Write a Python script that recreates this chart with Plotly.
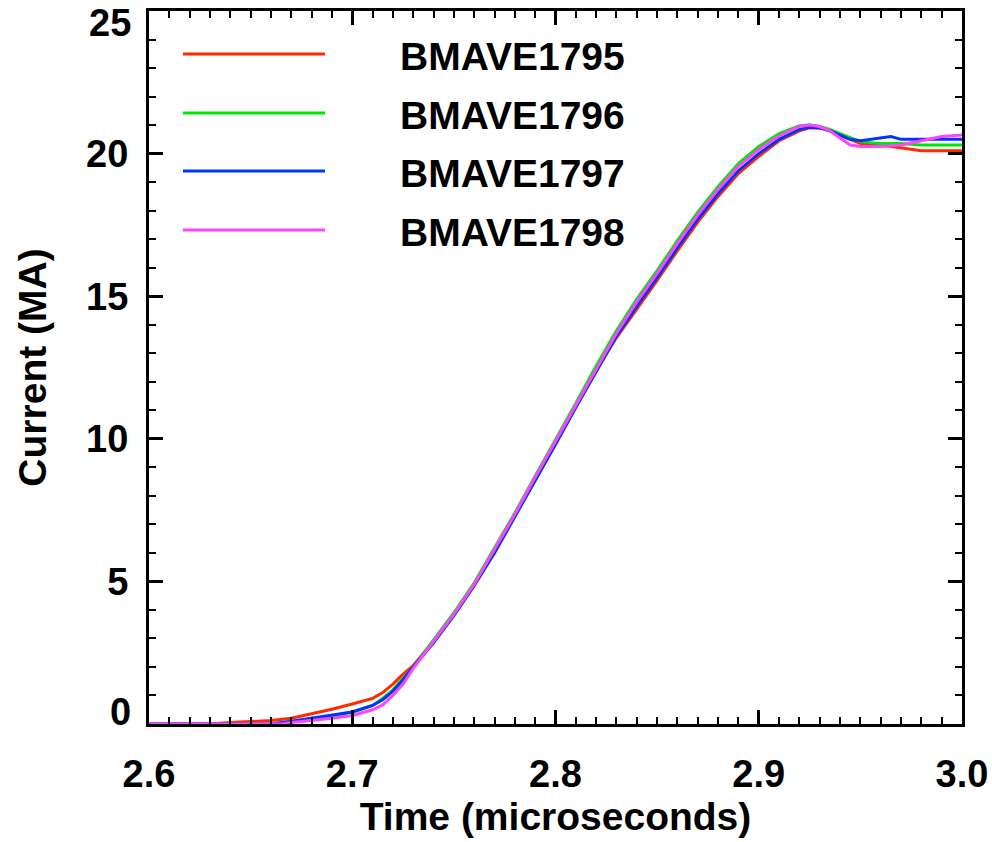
import plotly.graph_objects as go

names = ["BMAVE1795", "BMAVE1796", "BMAVE1797", "BMAVE1798"]
colors = ["#ff2a00", "#00e600", "#0033ff", "#ff44ff"]

t_1795 = [2.60, 2.63, 2.64, 2.66, 2.67, 2.68, 2.69, 2.70, 2.71, 2.715, 2.72, 2.725, 2.73,
          2.74, 2.75, 2.76, 2.77, 2.78, 2.79, 2.80, 2.81, 2.82, 2.83, 2.84, 2.85, 2.86,
          2.87, 2.88, 2.89, 2.90, 2.91, 2.92, 2.925, 2.93, 2.935, 2.94, 2.945, 2.95,
          2.96, 2.97, 2.98, 2.99, 3.00]
i_1795 = [0.0, 0.0, 0.05, 0.12, 0.2, 0.35, 0.52, 0.7, 0.9, 1.1, 1.4, 1.75, 2.05,
          2.9, 3.85, 4.9, 6.05, 7.3, 8.6, 9.85, 11.15, 12.4, 13.55, 14.55, 15.55, 16.6,
          17.6, 18.5, 19.3, 19.9, 20.45, 20.8, 20.9, 20.9, 20.8, 20.65, 20.5, 20.35,
          20.3, 20.2, 20.1, 20.1, 20.1]

t_1796 = [2.60, 2.66, 2.67, 2.68, 2.69, 2.70, 2.71, 2.715, 2.72, 2.725, 2.73,
          2.74, 2.75, 2.76, 2.77, 2.78, 2.79, 2.80, 2.81, 2.82, 2.83, 2.84, 2.85, 2.86,
          2.87, 2.88, 2.89, 2.90, 2.91, 2.92, 2.925, 2.93, 2.935, 2.94, 2.945, 2.95,
          2.96, 2.97, 2.98, 2.99, 3.00]
i_1796 = [0.0, 0.0, 0.08, 0.18, 0.28, 0.42, 0.65, 0.9, 1.2, 1.6, 2.0,
          2.95, 3.9, 4.95, 6.15, 7.4, 8.7, 9.95, 11.25, 12.55, 13.8, 14.9, 15.9, 16.95,
          17.95, 18.85, 19.65, 20.25, 20.7, 20.98, 21.0, 20.95, 20.85, 20.7, 20.55, 20.42,
          20.35, 20.35, 20.3, 20.3, 20.3]

t_1797 = [2.60, 2.66, 2.67, 2.68, 2.69, 2.70, 2.71, 2.715, 2.72, 2.725, 2.73,
          2.74, 2.75, 2.76, 2.77, 2.78, 2.79, 2.80, 2.81, 2.82, 2.83, 2.84, 2.85, 2.86,
          2.87, 2.88, 2.89, 2.90, 2.91, 2.92, 2.925, 2.93, 2.935, 2.94, 2.945, 2.95,
          2.96, 2.965, 2.97, 2.98, 2.99, 3.00]
i_1797 = [0.0, 0.0, 0.1, 0.2, 0.3, 0.42, 0.65, 0.85, 1.15, 1.55, 2.0,
          2.85, 3.8, 4.85, 6.0, 7.25, 8.55, 9.8, 11.1, 12.35, 13.6, 14.65, 15.65, 16.7,
          17.7, 18.6, 19.4, 20.0, 20.5, 20.85, 20.92, 20.9, 20.8, 20.65, 20.5, 20.45,
          20.55, 20.6, 20.5, 20.5, 20.5, 20.5]

t_1798 = [2.60, 2.665, 2.67, 2.68, 2.69, 2.70, 2.71, 2.715, 2.72, 2.725, 2.73,
          2.74, 2.75, 2.76, 2.77, 2.78, 2.79, 2.80, 2.81, 2.82, 2.83, 2.84, 2.85, 2.86,
          2.87, 2.88, 2.89, 2.90, 2.91, 2.92, 2.925, 2.93, 2.935, 2.94, 2.945, 2.95,
          2.96, 2.97, 2.98, 2.99, 3.00]
i_1798 = [0.0, 0.0, 0.05, 0.12, 0.2, 0.3, 0.5, 0.67, 1.0, 1.4, 1.95,
          2.9, 3.85, 4.9, 6.1, 7.35, 8.65, 9.9, 11.2, 12.45, 13.7, 14.8, 15.8, 16.85,
          17.85, 18.75, 19.55, 20.15, 20.62, 20.95, 21.0, 20.95, 20.8, 20.55, 20.3, 20.25,
          20.25, 20.3, 20.45, 20.6, 20.65]

x_ticks = [2.6, 2.7, 2.8, 2.9, 3.0]
x_tick_labels = ["2.6", "2.7", "2.8", "2.9", "3.0"]
y_ticks = [0, 5, 10, 15, 20, 25]
y_tick_labels = ["0", "5", "10", "15", "20", "25"]

series = [(t_1795, i_1795), (t_1796, i_1796), (t_1797, i_1797), (t_1798, i_1798)]

FONT = "Liberation Sans, Arial, sans-serif"
TICKFONT = dict(family=FONT, size=38, color="black", weight="bold")
TITLEFONT = dict(family=FONT, size=39, color="black", weight="bold")

fig = go.Figure()
for (tx, iy), name, col in zip(series, names, colors):
    fig.add_trace(go.Scatter(x=tx, y=iy, mode="lines", name=name,
                             line=dict(color=col, width=3), showlegend=False))

# manual legend (long line samples, as in the reference)
leg_y = [0.9397, 0.8569, 0.7756, 0.6928]
shapes = []
annotations = []
for name, col, yy in zip(names, colors, leg_y):
    shapes.append(dict(type="line", xref="paper", yref="paper", x0=0.0418, x1=0.2165,
                       y0=yy, y1=yy, line=dict(color=col, width=3)))
    annotations.append(dict(xref="paper", yref="paper", x=0.306, y=yy - 0.004,
                            xanchor="left", yanchor="middle", showarrow=False,
                            text=name, font=TITLEFONT))

# end labels of the y axis sit just inside the axis ends, as in the reference
y_end_shift = {0: 12, 25: -12}
y_axis_text = []
for v, lab in zip(y_ticks, y_tick_labels):
    if v in y_end_shift:
        annotations.append(dict(xref="paper", yref="y", x=0, y=v, xanchor="right",
                                yanchor="middle", xshift=-16, yshift=y_end_shift[v],
                                showarrow=False, text=lab, font=TICKFONT))
        y_axis_text.append("")
    else:
        y_axis_text.append(lab)

axis_common = dict(showline=True, linecolor="black", linewidth=3, mirror="ticks",
                   ticks="inside", ticklen=14, tickwidth=2.5, tickcolor="black",
                   showgrid=False, zeroline=False, tickfont=TICKFONT, automargin=False)

fig.update_layout(
    width=992, height=842,
    margin=dict(l=149, r=30, t=11, b=118),
    plot_bgcolor="white", paper_bgcolor="white",
    shapes=shapes, annotations=annotations,
    xaxis=dict(range=[2.6, 3.0], tickvals=x_ticks, ticktext=x_tick_labels,
               ticklabelstandoff=14, ticklabeloverflow="allow",
               minor=dict(ticks="inside", ticklen=7, tickwidth=2, tickcolor="black", dtick=0.01),
               title=dict(text="Time (microseconds)", standoff=8, font=TITLEFONT),
               **axis_common),
    yaxis=dict(range=[0, 25], tickvals=y_ticks, ticktext=y_axis_text,
               ticklabelstandoff=10,
               minor=dict(ticks="inside", ticklen=7, tickwidth=2, tickcolor="black", dtick=1),
               title=dict(text="Current (MA)", standoff=28, font=TITLEFONT),
               **axis_common),
)

fig.write_html("out.html", config={"displayModeBar": False},
               post_script="document.body.style.margin='0';document.body.style.overflow='hidden';")
